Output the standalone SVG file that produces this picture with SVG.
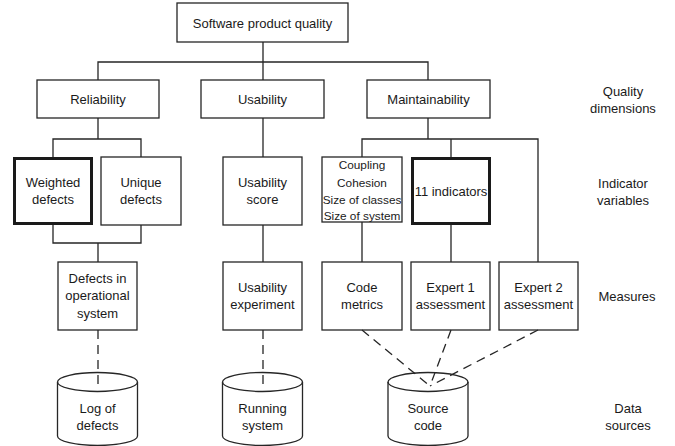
<svg xmlns="http://www.w3.org/2000/svg" width="675" height="446" viewBox="0 0 675 446">
<style>
.box{fill:#fff;stroke:#262626;stroke-width:1.3}
.bold{fill:#fff;stroke:#1a1a1a;stroke-width:3}
.cyl{fill:#fff;stroke:#262626;stroke-width:1.3}
.ln{fill:none;stroke:#262626;stroke-width:1.3}
.dash{fill:none;stroke:#262626;stroke-width:1.3;stroke-dasharray:9,6}
text{font-family:"Liberation Sans",Arial,sans-serif;font-size:13px;fill:#1a1a1a;text-anchor:middle}
.sm{font-size:11.8px}
</style>
<rect width="675" height="446" fill="#fff"/>
<g id="root"><rect class="box" x="177" y="3" width="171" height="39"/><text x="262.5" y="27.5">Software product quality</text></g>
<g id="reliability"><rect class="box" x="37" y="80" width="122" height="38"/><text x="98" y="103.5">Reliability</text></g>
<g id="usability"><rect class="box" x="201" y="80" width="123" height="38"/><text x="262.5" y="103.5">Usability</text></g>
<g id="maintainability"><rect class="box" x="367" y="80" width="123" height="38"/><text x="428.5" y="103.5">Maintainability</text></g>
<g id="weighted"><rect class="bold" x="14.5" y="158.5" width="77" height="65"/><text x="53" y="186.5">Weighted</text><text x="53" y="204">defects</text></g>
<g id="unique"><rect class="box" x="101" y="157" width="80" height="68"/><text x="141" y="186.5">Unique</text><text x="141" y="204">defects</text></g>
<g id="uscore"><rect class="box" x="223" y="157" width="79" height="68"/><text x="262.5" y="186.5">Usability</text><text x="262.5" y="204">score</text></g>
<g id="codevars"><rect class="box" x="322" y="157" width="80" height="65"/><text class="sm" x="362" y="168.5">Coupling</text><text class="sm" x="362" y="186.5">Cohesion</text><text class="sm" x="362" y="203.5">Size of classes</text><text class="sm" x="362" y="220">Size of system</text></g>
<g id="indicators"><rect class="bold" x="412.5" y="158.5" width="77" height="65"/><text x="451" y="196">11 indicators</text></g>
<g id="defectsop"><rect class="box" x="58" y="262" width="79" height="68"/><text x="97.5" y="282.5">Defects in</text><text x="97.5" y="300">operational</text><text x="97.5" y="317.5">system</text></g>
<g id="uexp"><rect class="box" x="223" y="262" width="79" height="68"/><text x="262.5" y="291.5">Usability</text><text x="262.5" y="309">experiment</text></g>
<g id="codemetrics"><rect class="box" x="322" y="262" width="80" height="68"/><text x="362" y="291.5">Code</text><text x="362" y="309">metrics</text></g>
<g id="expert1"><rect class="box" x="411" y="262" width="79" height="68"/><text x="450.5" y="291.5">Expert 1</text><text x="450.5" y="309">assessment</text></g>
<g id="expert2"><rect class="box" x="499" y="262" width="79" height="68"/><text x="538.5" y="291.5">Expert 2</text><text x="538.5" y="309">assessment</text></g>
<g id="log"><path class="cyl" d="M57.5,382 a40,9.5 0 0,1 80,0 v54 a40,9.5 0 0,1 -80,0 z"/><path class="ln" d="M57.5,382 a40,9.5 0 0,0 80,0"/><text x="97.5" y="412.5">Log of</text><text x="97.5" y="430">defects</text></g>
<g id="running"><path class="cyl" d="M222.5,382 a40,9.5 0 0,1 80,0 v54 a40,9.5 0 0,1 -80,0 z"/><path class="ln" d="M222.5,382 a40,9.5 0 0,0 80,0"/><text x="262.5" y="412.5">Running</text><text x="262.5" y="430">system</text></g>
<g id="source"><path class="cyl" d="M388,382 a40,9.5 0 0,1 80,0 v54 a40,9.5 0 0,1 -80,0 z"/><path class="ln" d="M388,382 a40,9.5 0 0,0 80,0"/><text x="428" y="412.5">Source</text><text x="428" y="430">code</text></g>
<g id="labels"><text x="623" y="95.5">Quality</text><text x="623" y="113">dimensions</text><text x="623" y="187.5">Indicator</text><text x="623" y="205">variables</text><text x="627" y="300.5">Measures</text><text x="628" y="412.5">Data</text><text x="628" y="430">sources</text></g>
<g id="connectors">
<path class="ln" d="M263,42 V62 M98,80 V62 H428 V80 M263,62 V80"/>
<path class="ln" d="M98,118 V139 M53,157 V139 H141 V157"/>
<path class="ln" d="M263,118 V157"/>
<path class="ln" d="M428,118 V139 M362,157 V139 H538 V262 M451,139 V157"/>
<path class="ln" d="M53,225 V243 H141 V225 M98,243 V262"/>
<path class="ln" d="M263,225 V262"/>
<path class="ln" d="M362,222 V262 M451,225 V262"/>
<path class="dash" d="M98,330 V386"/>
<path class="dash" d="M263,330 V386"/>
<path class="dash" d="M362,330 L430,386"/>
<path class="dash" d="M451,330 L430,386"/>
<path class="dash" d="M538,330 L430,386"/>
</g>
</svg>
